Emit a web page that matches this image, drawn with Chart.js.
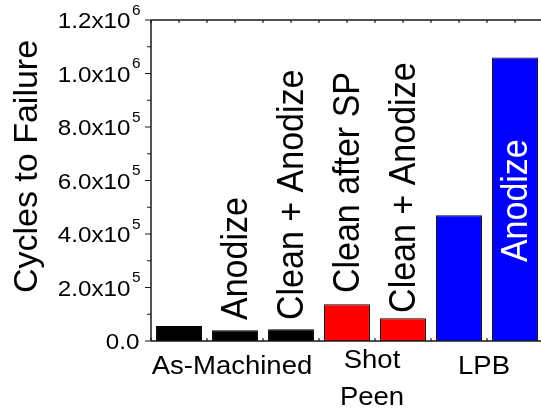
<!DOCTYPE html>
<html>
<head>
<meta charset="utf-8">
<script src="https://cdn.jsdelivr.net/npm/chart.js@4/dist/chart.umd.min.js"></script>
<style>
html,body{margin:0;padding:0;background:#fff;overflow:hidden;}
#wrap{width:541px;height:409px;overflow:hidden;position:relative;}
canvas{display:block;}
</style>
</head>
<body>
<div id="wrap"><canvas id="c" width="545" height="409"></canvas></div>
<script>
// ---- data ----
const categories = ['As-Machined', 'As-Machined Anodize', 'As-Machined Clean + Anodize',
                    'Shot Peen Clean after SP', 'Shot Peen Clean + Anodize', 'LPB', 'LPB Anodize'];
const cycles = [56000, 40000, 44000, 137000, 85000, 470000, 1060000];
const barColors = ['#000000', '#000000', '#000000', '#ff0000', '#ff0000', '#0000ff', '#0000ff'];

const groupNames = [['As-Machined'], ['Shot', 'Peen'], ['LPB']];
const groupFirst = [0, 3, 5];
const groupLast = [2, 4, 6];

const barLabelCats = [1, 2, 3, 4, 6];
const barLabelTexts = ['Anodize', 'Clean + Anodize', 'Clean after SP', 'Clean + Anodize', 'Anodize'];
const barLabelStart = [78500, 78500, 179000, 105000, 295000];
const barLabelColors = ['#000000', '#000000', '#000000', '#000000', '#ffffff'];

const yTickValues = [0, 200000, 400000, 600000, 800000, 1000000, 1200000];
const yTickMain = ['0.0', '2.0x10', '4.0x10', '6.0x10', '8.0x10', '1.0x10', '1.2x10'];
const yTickExp = ['', '5', '5', '5', '5', '6', '6'];
const yMinorStep = 100000;
const yMax = 1200000;
const yTitle = 'Cycles to Failure';

const FONT = '"Liberation Sans", Arial, Helvetica, sans-serif';

function stretchedText(ctx, text, x, y, size, sx, align, color) {
  ctx.save();
  ctx.font = size + 'px ' + FONT;
  ctx.fillStyle = color || '#000';
  ctx.textAlign = align;
  ctx.textBaseline = 'alphabetic';
  ctx.translate(x, y);
  ctx.scale(sx, 1);
  ctx.fillText(text, 0, 0);
  ctx.restore();
}

const decor = {
  id: 'decor',
  beforeDatasetsDraw(chart) {
    const ctx = chart.ctx, a = chart.chartArea;
    const xs = chart.scales.x, ys = chart.scales.y;
    ctx.save();
    ctx.strokeStyle = '#222';
    ctx.lineWidth = 1.2;
    const half = (xs.getPixelForValue(1) - xs.getPixelForValue(0)) / 2;
    ctx.beginPath();
    for (let i = 0; i < categories.length; i++) {
      const c = xs.getPixelForValue(i);
      [c - half, c, c + half].forEach(p => {
        ctx.moveTo(p, a.top); ctx.lineTo(p, a.top + 3);
        ctx.moveTo(p, a.bottom); ctx.lineTo(p, a.bottom - 3);
      });
    }
    ctx.stroke();
    ctx.restore();
  },
  afterDraw(chart) {
    const ctx = chart.ctx, a = chart.chartArea;
    const xs = chart.scales.x, ys = chart.scales.y;
    ctx.save();
    // axes lines
    ctx.strokeStyle = '#1a1a1a';
    ctx.lineWidth = 1.5;
    ctx.beginPath();
    ctx.moveTo(a.left, a.bottom); ctx.lineTo(a.left, a.top);
    ctx.moveTo(a.left, a.top); ctx.lineTo(a.right + 5, a.top);
    ctx.moveTo(a.left, a.bottom); ctx.lineTo(a.right + 5, a.bottom);
    ctx.stroke();
    // y ticks
    ctx.lineWidth = 1.2;
    ctx.beginPath();
    for (let v = 0; v <= yMax; v += yMinorStep) {
      const p = ys.getPixelForValue(v);
      const major = (v % 200000) === 0;
      ctx.moveTo(a.left, p); ctx.lineTo(a.left - (major ? 6 : 4), p);
    }
    ctx.stroke();
    // y tick labels
    for (let i = 0; i < yTickValues.length; i++) {
      const p = ys.getPixelForValue(yTickValues[i]);
      const base = p + 8;
      if (yTickExp[i]) {
        stretchedText(ctx, yTickExp[i], a.left - 10.5, base - 13.5, 14, 1.1, 'right');
        stretchedText(ctx, yTickMain[i], a.left - 20.5, base, 22, 1.1, 'right');
      } else {
        stretchedText(ctx, yTickMain[i], a.left - 11.5, base, 22, 1.1, 'right');
      }
    }
    // group labels
    for (let g = 0; g < groupNames.length; g++) {
      const cx = (xs.getPixelForValue(groupFirst[g]) + xs.getPixelForValue(groupLast[g])) / 2;
      const lines = groupNames[g];
      const first = a.bottom + (lines.length > 1 ? 27 : 33);
      lines.forEach((t, k) => stretchedText(ctx, t, cx - 3, first + k * 37, 25, 1.1, 'center'));
    }
    // rotated bar labels
    const F = 34;
    for (let i = 0; i < barLabelTexts.length; i++) {
      const cx = xs.getPixelForValue(barLabelCats[i]) - 1;
      const y0 = ys.getPixelForValue(barLabelStart[i]);
      ctx.save();
      ctx.font = F + 'px ' + FONT;
      ctx.fillStyle = barLabelColors[i];
      ctx.textAlign = 'left';
      ctx.textBaseline = 'alphabetic';
      ctx.translate(cx + 0.365 * F * 1.08, y0);
      ctx.scale(1.08, 1);
      ctx.rotate(-Math.PI / 2);
      ctx.fillText(barLabelTexts[i], 0, 0);
      ctx.restore();
    }
    // y title
    ctx.save();
    ctx.font = '34px ' + FONT;
    ctx.fillStyle = '#000';
    ctx.textAlign = 'center';
    ctx.textBaseline = 'alphabetic';
    ctx.translate(37, (a.top + a.bottom) / 2 - 14);
    ctx.rotate(-Math.PI / 2);
    ctx.fillText(yTitle, 0, 0);
    ctx.restore();
    ctx.restore();
  }
};

new Chart(document.getElementById('c'), {
  type: 'bar',
  data: {
    labels: categories,
    datasets: [{
      data: cycles,
      backgroundColor: barColors,
      borderColor: '#000000',
      borderWidth: 1,
      categoryPercentage: 1.0,
      barPercentage: 0.82
    }]
  },
  options: {
    responsive: false,
    animation: false,
    devicePixelRatio: 1,
    layout: { padding: { top: 20, right: 2, left: 0, bottom: 0 } },
    plugins: { legend: { display: false }, tooltip: { enabled: false }, title: { display: false } },
    scales: {
      x: {
        type: 'category',
        offset: true,
        grid: { display: false },
        border: { display: false },
        ticks: { display: false },
        afterFit(s) { s.height = 68; }
      },
      y: {
        min: 0, max: yMax,
        grid: { display: false },
        border: { display: false },
        ticks: { display: false, stepSize: 200000 },
        afterFit(s) { s.width = 151; }
      }
    }
  },
  plugins: [decor]
});
</script>
</body>
</html>
